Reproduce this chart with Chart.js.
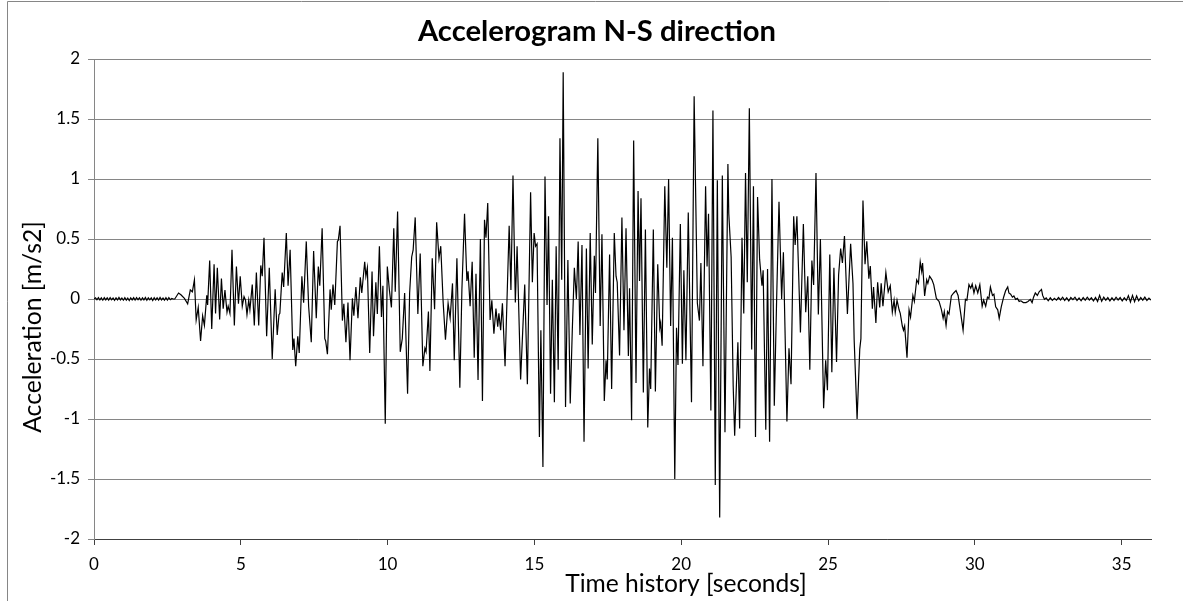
<!DOCTYPE html>
<html>
<head>
<meta charset="utf-8">
<title>Accelerogram N-S direction</title>
<script src="https://cdn.jsdelivr.net/npm/chart.js@4.4.1/dist/chart.umd.min.js"></script>
<style>
  html, body { margin: 0; padding: 0; background: #fff; }
  #wrap { position: relative; width: 1183px; height: 601px; }
</style>
</head>
<body>
<div id="wrap"><canvas id="accel-chart" width="1183" height="601"></canvas></div>
<script>
const chartTitle = "Accelerogram N-S direction";
const xTitle = "Time history [seconds]";
const yTitle = "Acceleration [m/s2]";

// pre-event noise, 0 - 2.7 s
const quietT = [
  0.00, 0.05, 0.10, 0.15, 0.20, 0.25, 0.30, 0.35, 0.40, 0.45,
  0.50, 0.55, 0.60, 0.65, 0.70, 0.75, 0.80, 0.85, 0.90, 0.95,
  1.00, 1.05, 1.10, 1.15, 1.20, 1.25, 1.30, 1.35, 1.40, 1.45,
  1.50, 1.55, 1.60, 1.65, 1.70, 1.75, 1.80, 1.85, 1.90, 1.95,
  2.00, 2.05, 2.10, 2.15, 2.20, 2.25, 2.30, 2.35, 2.40, 2.45,
  2.50, 2.55, 2.60, 2.65, 2.70
];
const quietA = [
  0.000, 0.010, -0.006, 0.012, -0.008, 0.009, -0.010, 0.011, -0.007, 0.010,
  -0.009, 0.012, -0.006, 0.008, -0.011, 0.010, -0.008, 0.013, -0.007, 0.009,
  -0.010, 0.011, -0.009, 0.008, -0.012, 0.010, -0.007, 0.011, -0.009, 0.012,
  -0.006, 0.010, -0.010, 0.009, -0.008, 0.012, -0.011, 0.010, -0.007, 0.009,
  -0.012, 0.011, -0.008, 0.010, -0.009, 0.013, -0.007, 0.008, -0.010, 0.011,
  -0.009, 0.012, -0.006, 0.004, 0.000
];

// onset, 2.75 - 10.1 s
const onsetT = [
  2.75, 2.88, 2.96, 3.08, 3.19, 3.28, 3.35, 3.42, 3.48, 3.55,
  3.63, 3.70, 3.76, 3.84, 3.87, 3.94, 4.01, 4.09, 4.14, 4.20,
  4.28, 4.34, 4.40, 4.46, 4.53, 4.57, 4.63, 4.70, 4.78, 4.85,
  4.92, 4.98, 5.05, 5.11, 5.16, 5.21, 5.27, 5.31, 5.39, 5.46,
  5.53, 5.61, 5.68, 5.73, 5.79, 5.88, 5.97, 6.07, 6.17, 6.24,
  6.30, 6.33, 6.41, 6.46, 6.55, 6.61, 6.68, 6.77, 6.81, 6.87,
  6.94, 6.99, 7.08, 7.14, 7.23, 7.31, 7.40, 7.48, 7.57, 7.64,
  7.69, 7.77, 7.86, 7.89, 7.95, 8.04, 8.08, 8.14, 8.20, 8.29,
  8.32, 8.38, 8.46, 8.51, 8.58, 8.65, 8.72, 8.80, 8.85, 8.92,
  8.99, 9.07, 9.12, 9.22, 9.26, 9.31, 9.39, 9.47, 9.52, 9.60,
  9.65, 9.72, 9.79, 9.84, 9.92, 9.99, 10.06
];
const onsetA = [
  0.00, 0.05, 0.035, 0.005, -0.04, 0.075, 0.06, 0.16, -0.175, -0.07,
  -0.35, -0.14, -0.22, 0.03, -0.05, 0.32, -0.25, 0.29, -0.12, 0.26,
  -0.17, 0.17, -0.08, 0.075, -0.11, -0.06, -0.12, 0.41, -0.22, 0.27,
  -0.04, 0.19, -0.06, 0.02, -0.01, -0.13, -0.01, -0.09, 0.12, -0.22,
  0.22, -0.22, 0.28, 0.19, 0.51, -0.31, 0.26, -0.50, 0.08, -0.30,
  -0.13, -0.12, 0.22, 0.10, 0.55, 0.11, 0.41, -0.425, -0.33, -0.56,
  -0.31, -0.45, 0.19, -0.03, 0.48, -0.06, -0.36, 0.40, -0.16, 0.27,
  0.11, 0.59, -0.33, -0.35, -0.46, 0.08, -0.09, 0.12, -0.05, 0.48,
  0.49, 0.61, -0.18, -0.04, -0.36, -0.03, -0.51, 0.005, -0.14, 0.10,
  -0.16, 0.18, 0.05, 0.31, 0.19, 0.26, -0.45, 0.23, -0.31, 0.14,
  -0.125, 0.44, -0.15, 0.11, -1.04, 0.27, 0.075
];

// strong motion, 10.1 - 22.6 s
const strongT = [
  10.13, 10.21, 10.26, 10.34, 10.43, 10.50, 10.58, 10.68, 10.75, 10.82,
  10.87, 10.94, 11.03, 11.11, 11.20, 11.27, 11.31, 11.39, 11.44, 11.52,
  11.60, 11.67, 11.75, 11.81, 11.89, 11.97, 12.06, 12.13, 12.21, 12.27,
  12.36, 12.46, 12.53, 12.62, 12.70, 12.74, 12.81, 12.88, 12.95, 13.01,
  13.08, 13.16, 13.23, 13.30, 13.35, 13.41, 13.49, 13.55, 13.62, 13.69,
  13.75, 13.79, 13.85, 13.91, 14.00, 14.14, 14.20, 14.27, 14.35, 14.41,
  14.53, 14.67, 14.76, 14.87, 14.93, 14.99, 15.04, 15.09, 15.17, 15.22,
  15.29, 15.36, 15.43, 15.48, 15.55, 15.61, 15.68, 15.74, 15.81, 15.87,
  15.93, 15.98, 16.06, 16.14, 16.22, 16.29, 16.36, 16.43, 16.49, 16.55,
  16.62, 16.69, 16.77, 16.83, 16.90, 16.97, 17.04, 17.08, 17.16, 17.24,
  17.30, 17.38, 17.44, 17.48, 17.56, 17.63, 17.72, 17.78, 17.82, 17.90,
  17.98, 18.05, 18.12, 18.20, 18.24, 18.31, 18.38, 18.46, 18.53, 18.58,
  18.63, 18.71, 18.78, 18.86, 18.92, 18.96, 19.05, 19.12, 19.20, 19.27,
  19.30, 19.35, 19.44, 19.51, 19.57, 19.64, 19.70, 19.78, 19.84, 19.89,
  19.97, 20.04, 20.09, 20.16, 20.24, 20.35, 20.44, 20.55, 20.62, 20.67,
  20.74, 20.83, 20.88, 20.93, 21.01, 21.08, 21.16, 21.23, 21.31, 21.40,
  21.49, 21.59, 21.62, 21.70, 21.77, 21.82, 21.93, 21.99, 22.07, 22.13,
  22.19, 22.25, 22.32, 22.40, 22.46, 22.53, 22.60
];
const strongA = [
  -0.07, 0.59, 0.06, 0.73, -0.44, -0.33, 0.05, -0.79, 0.05, 0.35,
  0.41, 0.68, -0.125, 0.38, -0.56, -0.41, -0.44, -0.105, -0.60, 0.34,
  -0.086, 0.64, 0.34, 0.44, -0.02, -0.34, -0.036, -0.16, 0.13, -0.51,
  0.34, -0.74, 0.075, 0.71, 0.15, 0.23, -0.06, 0.31, -0.49, 0.21,
  -0.675, 0.50, -0.85, 0.66, 0.51, 0.80, -0.175, -0.01, -0.29, -0.08,
  -0.23, -0.12, -0.26, -0.036, -0.56, 0.61, 0.075, 1.03, -0.03, 0.44,
  -0.67, 0.12, -0.71, 0.89, 0.14, 0.55, 0.44, 0.46, -1.15, -0.26,
  -1.40, 1.02, -0.05, 0.69, -0.79, 0.16, -0.86, 0.44, -0.59, 1.34,
  0.16, 1.89, -0.90, 0.325, -0.87, -0.26, 0.26, 0.00, 0.48, -0.30,
  0.45, -1.19, 0.42, -0.58, 0.55, -0.38, 0.36, 0.05, 1.34, -0.225,
  0.54, -0.85, -0.51, -0.67, 0.37, -0.75, 0.55, 0.19, 0.14, -0.47,
  0.68, -0.26, 0.59, -0.475, 0.09, -1.01, 1.32, -0.70, 0.90, 0.15,
  0.84, -0.78, 0.58, -1.07, -0.58, -0.75, 0.58, -0.77, 0.29, -0.24,
  -0.20, -0.39, 0.94, 0.26, 1.00, -0.225, 0.51, -1.50, -0.24, -0.55,
  0.625, -0.54, 0.24, -0.51, 0.72, -0.86, 1.69, -0.036, -0.18, 0.30,
  -0.56, 0.94, 0.27, 0.71, -0.93, 1.57, -1.55, 0.99, -1.82, 1.03,
  -1.11, 1.125, 0.71, 0.35, -0.725, -1.14, -0.36, -1.08, 0.51, -0.12,
  1.05, 0.14, 1.59, -0.42, 0.94, -1.15, 0.85
];

// decay, 22.7 - 32.4 s
const decayT = [
  22.67, 22.75, 22.79, 22.88, 22.94, 23.01, 23.09, 23.17, 23.25, 23.33,
  23.42, 23.48, 23.60, 23.67, 23.74, 23.83, 23.88, 23.94, 24.06, 24.16,
  24.24, 24.31, 24.38, 24.45, 24.51, 24.59, 24.67, 24.74, 24.85, 24.92,
  24.98, 25.06, 25.13, 25.20, 25.29, 25.36, 25.43, 25.49, 25.56, 25.66,
  25.77, 25.85, 25.89, 25.99, 26.08, 26.12, 26.19, 26.26, 26.32, 26.39,
  26.44, 26.51, 26.55, 26.63, 26.69, 26.76, 26.81, 26.87, 26.97, 27.05,
  27.12, 27.19, 27.25, 27.29, 27.35, 27.42, 27.46, 27.53, 27.57, 27.61,
  27.69, 27.76, 27.81, 27.89, 27.94, 28.02, 28.08, 28.14, 28.19, 28.22,
  28.29, 28.36, 28.40, 28.46, 28.54, 28.60, 28.69, 28.78, 28.86, 28.92,
  28.96, 29.02, 29.07, 29.12, 29.20, 29.28, 29.36, 29.43, 29.51, 29.60,
  29.68, 29.73, 29.80, 29.86, 29.91, 29.97, 30.03, 30.10, 30.17, 30.25,
  30.30, 30.37, 30.43, 30.48, 30.53, 30.60, 30.65, 30.71, 30.78, 30.83,
  30.90, 30.98, 31.05, 31.12, 31.16, 31.22, 31.28, 31.33, 31.39, 31.45,
  31.51, 31.57, 31.65, 31.74, 31.81, 31.89, 31.95, 32.00, 32.06, 32.13,
  32.19, 32.27, 32.31, 32.37, 32.43
];
const decayA = [
  0.33, 0.11, 0.24, -1.09, 0.25, -1.19, 1.00, -0.89, 0.00, 0.81,
  0.00, 0.39, -1.02, -0.41, -0.71, 0.69, 0.45, 0.69, -0.28, 0.625,
  -0.11, 0.19, -0.59, 0.32, 0.117, 1.05, -0.13, 0.50, -0.91, -0.51,
  -0.76, 0.37, -0.61, 0.26, -0.525, 0.20, 0.42, 0.30, 0.525, -0.125,
  0.46, 0.13, -0.34, -1.00, -0.42, -0.33, 0.82, 0.29, 0.48, 0.17,
  0.275, -0.08, 0.10, -0.20, 0.14, -0.07, 0.13, -0.06, 0.22, 0.06,
  0.11, -0.11, -0.01, -0.11, -0.01, -0.09, -0.12, -0.225, -0.26, -0.225,
  -0.49, -0.09, -0.15, 0.03, -0.02, 0.16, 0.13, 0.31, 0.23, 0.30,
  0.025, 0.16, 0.13, 0.19, 0.16, 0.12, 0.005, -0.02, -0.086, -0.16,
  -0.105, -0.22, -0.105, -0.125, 0.025, 0.05, 0.07, 0.03, -0.105, -0.26,
  -0.003, -0.01, 0.12, 0.09, 0.125, 0.05, 0.11, 0.05, 0.12, -0.06,
  -0.01, -0.06, 0.015, 0.005, 0.10, 0.03, 0.04, -0.065, -0.09, -0.16,
  -0.065, 0.015, 0.07, 0.10, 0.05, 0.04, 0.015, 0.025, -0.003, 0.005,
  -0.02, -0.015, -0.03, -0.03, -0.02, -0.003, -0.03, 0.015, 0.05, 0.03,
  0.06, 0.08, 0.03, -0.003, 0.01
];

// post-event noise, 32.5 - 36 s
const tailT = [
  32.50, 32.57, 32.64, 32.71, 32.78, 32.85, 32.92, 32.99, 33.06, 33.13,
  33.20, 33.27, 33.34, 33.41, 33.48, 33.55, 33.62, 33.69, 33.76, 33.83,
  33.90, 33.97, 34.04, 34.11, 34.18, 34.25, 34.32, 34.39, 34.46, 34.53,
  34.60, 34.67, 34.74, 34.81, 34.88, 34.95, 35.02, 35.09, 35.16, 35.23,
  35.30, 35.37, 35.44, 35.51, 35.58, 35.65, 35.72, 35.79, 35.86, 35.93,
  36.00
];
const tailA = [
  -0.015, 0.010, -0.012, 0.005, -0.010, 0.012, -0.008, 0.015, -0.012, 0.010,
  -0.015, 0.012, -0.005, 0.015, -0.012, 0.008, -0.015, 0.012, -0.010, 0.015,
  -0.008, 0.010, -0.015, 0.012, -0.020, 0.030, -0.018, 0.015, -0.010, 0.012,
  -0.015, 0.010, -0.012, 0.015, -0.008, 0.012, -0.015, 0.010, -0.012, 0.028,
  -0.025, 0.030, -0.022, 0.025, -0.015, 0.012, -0.010, 0.015, -0.012, 0.008,
  -0.010
];

const xTicks = [0, 5, 10, 15, 20, 25, 30, 35];
const yTicks = [-2, -1.5, -1, -0.5, 0, 0.5, 1, 1.5, 2];

const W = 1183, H = 601;
const PLOT = { left: 94, top: 59, right: 1151, bottom: 539 };
const FONT = "Lato, 'Open Sans', sans-serif";
const GRID = "#868686";

const times = [...quietT, ...onsetT, ...strongT, ...decayT, ...tailT];
const accel = [...quietA, ...onsetA, ...strongA, ...decayA, ...tailA];
const points = times.map((t, i) => ({ x: t, y: accel[i] }));

// scale a font so the text spans a given width (Calibri-like proportions)
function fittedFont(ctx, text, weight, width) {
  ctx.font = `${weight} 100px ${FONT}`;
  const w = ctx.measureText(text).width;
  return `${weight} ${(100 * width / w).toFixed(1)}px ${FONT}`;
}

const frame = {
  id: "frame",
  beforeDraw(chart) {
    const { ctx } = chart;
    ctx.save();
    ctx.fillStyle = "#fff";
    ctx.fillRect(0, 0, W, H);
    ctx.strokeStyle = GRID;
    ctx.lineWidth = 1;
    ctx.beginPath();
    ctx.moveTo(7.5, H);
    ctx.lineTo(7.5, 1.5);
    ctx.lineTo(W, 1.5);
    ctx.stroke();
    ctx.restore();
  }
};

const titles = {
  id: "titles",
  afterDraw(chart) {
    const { ctx } = chart;
    ctx.save();
    ctx.fillStyle = "#000";
    ctx.textAlign = "center";
    ctx.textBaseline = "middle";

    ctx.font = fittedFont(ctx, chartTitle, "bold", 358);
    ctx.fillText(chartTitle, 597, 32);

    ctx.font = fittedFont(ctx, xTitle, "normal", 242);
    ctx.fillText(xTitle, 686, 584);

    ctx.font = fittedFont(ctx, yTitle, "normal", 212);
    ctx.translate(33, 327);
    ctx.rotate(-Math.PI / 2);
    ctx.fillText(yTitle, 0, 0);
    ctx.restore();
  }
};

new Chart(document.getElementById("accel-chart"), {
  type: "scatter",
  data: {
    datasets: [{
      data: points,
      showLine: true,
      borderColor: "#000",
      borderWidth: 1.2,
      pointRadius: 0,
      tension: 0,
      fill: false
    }]
  },
  options: {
    responsive: false,
    animation: false,
    devicePixelRatio: 1,
    layout: { padding: { top: PLOT.top, right: W - PLOT.right, left: 0, bottom: 0 } },
    plugins: { legend: { display: false }, tooltip: { enabled: false }, title: { display: false } },
    scales: {
      x: {
        type: "linear",
        min: 0,
        max: 36,
        afterFit: s => { s.height = H - PLOT.bottom; },
        afterBuildTicks: s => { s.ticks = xTicks.map(v => ({ value: v })); },
        ticks: { color: "#000", font: { family: FONT, size: 17 }, padding: 9, maxRotation: 0, autoSkip: false,
                 callback: v => String(v) },
        grid: { drawOnChartArea: false, tickLength: 6, color: "#404040" },
        border: { color: "#404040", width: 1 }
      },
      y: {
        min: -2,
        max: 2,
        afterFit: s => { s.width = PLOT.left; },
        afterBuildTicks: s => { s.ticks = yTicks.map(v => ({ value: v })); },
        ticks: { color: "#000", font: { family: FONT, size: 17 }, padding: 8, autoSkip: false,
                 callback: v => String(v) },
        grid: { color: GRID, tickLength: 6 },
        border: { color: GRID, width: 1 }
      }
    }
  },
  plugins: [frame, titles]
});
</script>
</body>
</html>
